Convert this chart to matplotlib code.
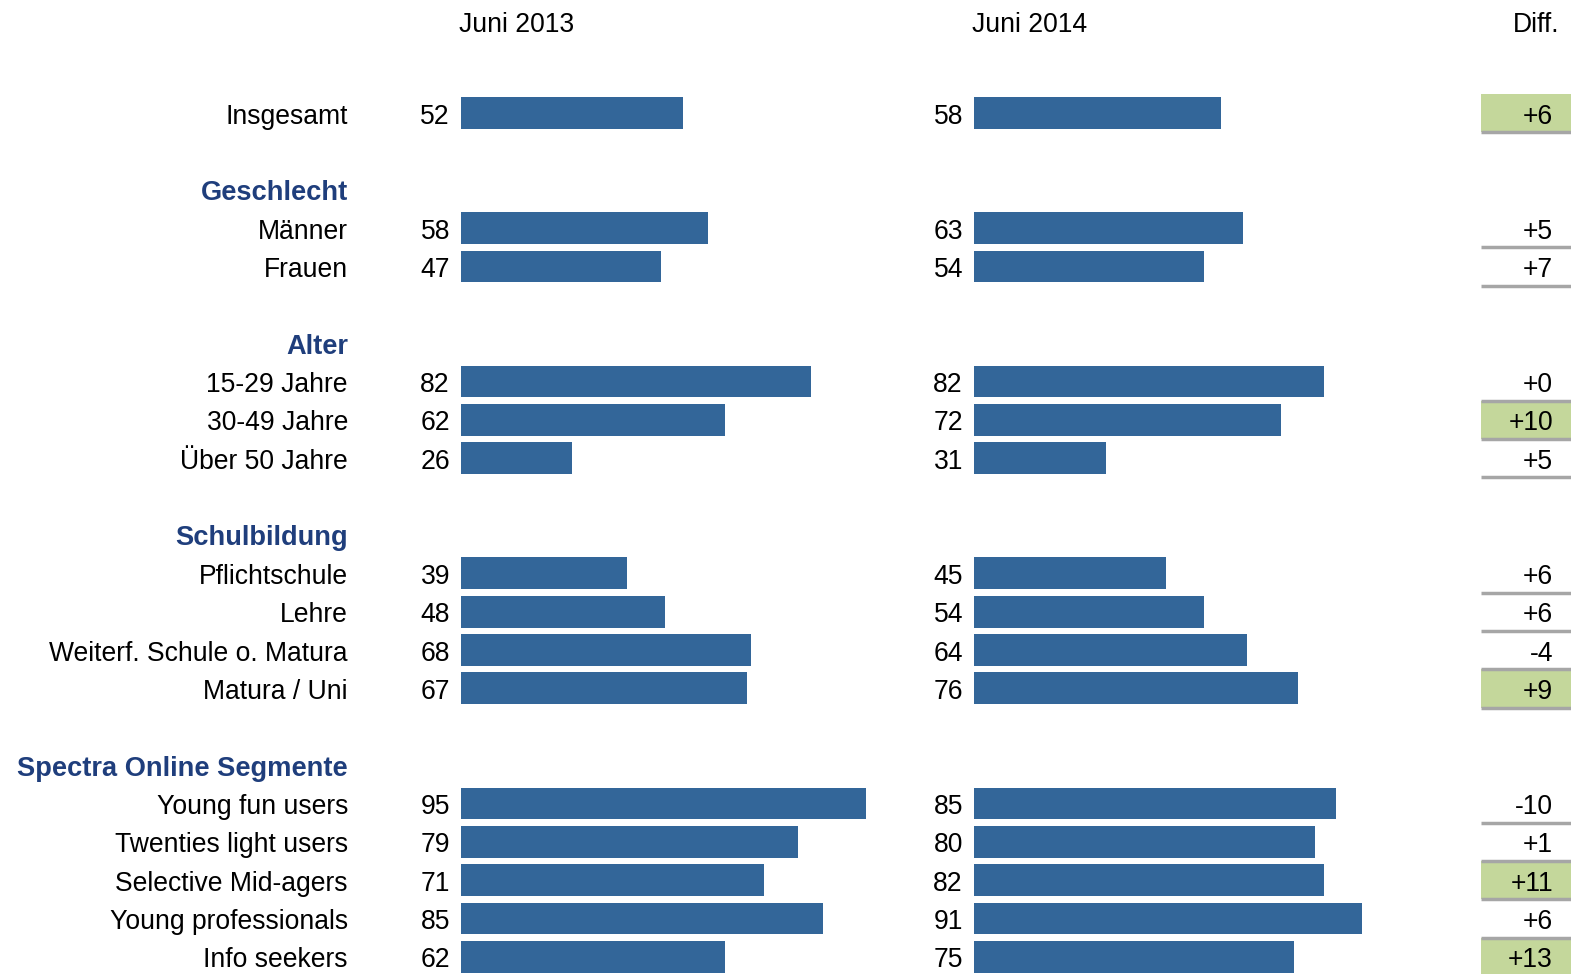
import matplotlib
matplotlib.use("Agg")
import matplotlib.pyplot as plt
from matplotlib.patches import Rectangle

# ---- data ----
rows = ["Insgesamt", None, "Geschlecht", "Männer", "Frauen", None,
        "Alter", "15-29 Jahre", "30-49 Jahre", "Über 50 Jahre", None,
        "Schulbildung", "Pflichtschule", "Lehre", "Weiterf. Schule o. Matura", "Matura / Uni", None,
        "Spectra Online Segmente", "Young fun users", "Twenties light users", "Selective Mid-agers",
        "Young professionals", "Info seekers"]
is_header = [False, False, True, False, False, False,
             True, False, False, False, False,
             True, False, False, False, False, False,
             True, False, False, False, False, False]
labels = ["Insgesamt", "Männer", "Frauen", "15-29 Jahre", "30-49 Jahre", "Über 50 Jahre",
          "Pflichtschule", "Lehre", "Weiterf. Schule o. Matura", "Matura / Uni",
          "Young fun users", "Twenties light users", "Selective Mid-agers",
          "Young professionals", "Info seekers"]
v2013 = [52, 58, 47, 82, 62, 26, 39, 48, 68, 67, 95, 79, 71, 85, 62]
v2014 = [58, 63, 54, 82, 72, 31, 45, 54, 64, 76, 85, 80, 82, 91, 75]
diff = ["+6", "+5", "+7", "+0", "+10", "+5", "+6", "+6", "-4", "+9", "-10", "+1", "+11", "+6", "+13"]
highlight = [True, False, False, False, True, False, False, False, False, True,
             False, False, True, False, True]
col_titles = ["Juni 2013", "Juni 2014", "Diff."]

# ---- layout ----
W, H = 1571, 974
y0, dy = 113, 38.36
ylim = ((H - y0) / dy, -y0 / dy)
font = "Liberation Sans"
fs = 19.1
toff = 3.5 / dy
bar_color = "#336699"
head_color = "#1f3e7c"
green = "#c4d79b"
gray = "#a6a6a6"
px_per_unit = 4.27

fig = plt.figure(figsize=(W / 100, H / 100), dpi=100)
ax = fig.add_axes([0, 0, 1, 1])
ax.set_xlim(0, W)
ax.set_ylim(*ylim)
ax.axis("off")

ax1 = fig.add_axes([460.5 / W, 0, 100 * px_per_unit / W, 1])
ax2 = fig.add_axes([973.5 / W, 0, 100 * px_per_unit / W, 1])
for a in (ax1, ax2):
    a.set_xlim(0, 100)
    a.set_ylim(*ylim)
    a.axis("off")

data_slots = [i for i, r in enumerate(rows) if r is not None and not is_header[i]]
for i, r in enumerate(rows):
    if r is not None and is_header[i]:
        ax.text(348, i + toff, r, ha="right", va="center", fontsize=19.6, fontweight="bold",
                color=head_color, family=font)

ax1.barh(data_slots, v2013, height=0.83, color=bar_color)
ax2.barh(data_slots, v2014, height=0.83, color=bar_color)

for k, s in enumerate(data_slots):
    ax.text(348, s + toff, labels[k], ha="right", va="center", fontsize=fs, color="black", family=font)
    ax.text(450, s + toff, str(v2013[k]), ha="right", va="center", fontsize=fs, color="black", family=font)
    ax.text(963, s + toff, str(v2014[k]), ha="right", va="center", fontsize=fs, color="black", family=font)
    if highlight[k]:
        ax.add_patch(Rectangle((1481, s - 0.5), W - 1481, 1.0, facecolor=green,
                               edgecolor="none", zorder=1))
    ax.plot([1481, W], [s + 0.5, s + 0.5], color=gray, lw=2.5, solid_capstyle="butt", zorder=2)
    ax.text(1553, s + toff, diff[k], ha="right", va="center", fontsize=fs, color="black",
            family=font, zorder=3)

hy = (22 - y0) / dy + toff
ax.text(517, hy, col_titles[0], ha="center", va="center", fontsize=fs, family=font)
ax.text(1030, hy, col_titles[1], ha="center", va="center", fontsize=fs, family=font)
ax.text(1559, hy, col_titles[2], ha="right", va="center", fontsize=fs, family=font)

fig.savefig("out.png", dpi=100, facecolor="white")
